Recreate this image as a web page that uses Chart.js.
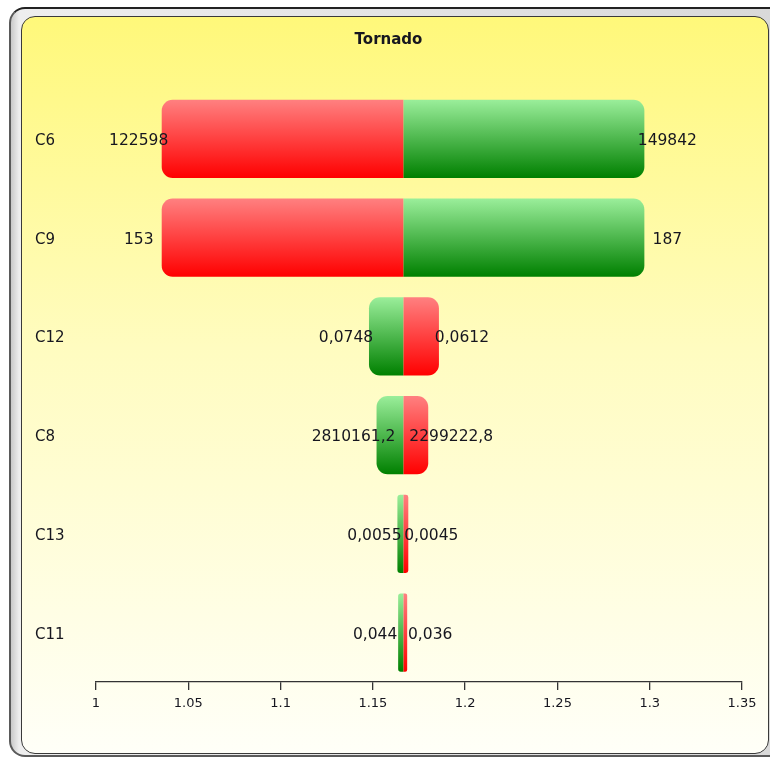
<!DOCTYPE html>
<html>
<head>
<meta charset="utf-8">
<title>Tornado</title>
<script src="https://cdn.jsdelivr.net/npm/chart.js@4.4.1/dist/chart.umd.min.js"></script>
<style>
  html, body { margin: 0; padding: 0; background: #ffffff; overflow: hidden; }
  #wrap { position: relative; width: 770px; height: 759px; overflow: hidden; }
  .frame {
    position: absolute; left: 9px; top: 7px; width: 800px; height: 750px;
    box-sizing: border-box;
    border: 2px solid #5a5a5a; border-top-color: #222;
    border-radius: 16px;
    background: linear-gradient(to right, #c9c9c9, #eeeeee 8px, #d8d8d8);
  }
  .panel {
    position: absolute; left: 21px; top: 16px; width: 748px; height: 738px;
    box-sizing: border-box;
    border: 1.5px solid #3a3a3a;
    border-radius: 14px;
    background: linear-gradient(to bottom, #fff87a 0%, #fffcc0 45%, #fffff8 100%);
  }
  canvas { position: absolute; left: 0; top: 0; }
</style>
</head>
<body>
<div id="wrap">
  <div class="frame"></div>
  <div class="panel"></div>
  <canvas id="chart" width="770" height="759"></canvas>
</div>
<script>
// Parameters, top to bottom
const categories = ['C6', 'C9', 'C12', 'C8', 'C13', 'C11'];
// Input values at the left and right end of each bar
const leftInputs  = [122598, 153, 0.0748, 2810161.2, 0.0055, 0.044];
const rightInputs = [149842, 187, 0.0612, 2299222.8, 0.0045, 0.036];
// Resulting output at each end of the bar, and the base case in the middle
const leftOutputs  = [1.0356, 1.0356, 1.1479, 1.1520, 1.1633, 1.1637];
const rightOutputs = [1.2971, 1.2971, 1.1858, 1.1800, 1.1692, 1.1686];
const baseOutput = 1.1665;
// Axis ticks
const xTickLabels = ['1', '1.05', '1.1', '1.15', '1.2', '1.25', '1.3', '1.35'];

const FONT = '"DejaVu Sans", Verdana, sans-serif';
const TEXT = '#16161f';
const BAR_FRACTION = 0.79;

function fmt(v) { return String(v).replace('.', ','); }

function barGradient(ctx, red) {
  const chart = ctx.chart;
  const ys = chart.scales.y;
  const fallback = red ? '#ff2020' : '#139a13';
  if (!ys || ctx.type !== 'data') return fallback;
  const yc = ys.getPixelForValue(ctx.dataIndex);
  const h = ys.height / categories.length * BAR_FRACTION;
  if (!isFinite(yc) || !isFinite(h) || h <= 0) return fallback;
  const g = chart.ctx.createLinearGradient(0, yc - h / 2, 0, yc + h / 2);
  if (red) {
    g.addColorStop(0, '#ff8080');
    g.addColorStop(1, '#ff0000');
  } else {
    g.addColorStop(0, '#9aee9a');
    g.addColorStop(1, '#008000');
  }
  return g;
}

// The lower input value is drawn red, the higher one green
const leftIsRed = categories.map((_, i) => leftInputs[i] < rightInputs[i]);

const valueLabels = {
  id: 'valueLabels',
  afterDatasetsDraw(chart) {
    const { ctx, scales: { x, y } } = chart;
    ctx.save();
    ctx.font = '15.5px ' + FONT;
    ctx.fillStyle = TEXT;
    ctx.textAlign = 'center';
    ctx.textBaseline = 'middle';
    categories.forEach((c, i) => {
      const yc = y.getPixelForValue(i);
      const xl = x.getPixelForValue(leftOutputs[i]);
      const xr = x.getPixelForValue(rightOutputs[i]);
      ctx.fillText(fmt(leftInputs[i]), xl - 23, yc + 2);
      ctx.fillText(fmt(rightInputs[i]), xr + 23, yc + 2);
    });
    ctx.restore();
  }
};

new Chart(document.getElementById('chart'), {
  type: 'bar',
  data: {
    labels: categories,
    datasets: [
      {
        label: 'low',
        data: categories.map((_, i) => [leftOutputs[i], baseOutput]),
        backgroundColor: (ctx) => barGradient(ctx, leftIsRed[ctx.dataIndex]),
        borderSkipped: false,
        borderWidth: 0,
        borderRadius: { topLeft: 11, bottomLeft: 11, topRight: 0, bottomRight: 0 },
        grouped: false
      },
      {
        label: 'high',
        data: categories.map((_, i) => [baseOutput, rightOutputs[i]]),
        backgroundColor: (ctx) => barGradient(ctx, !leftIsRed[ctx.dataIndex]),
        borderSkipped: false,
        borderWidth: 0,
        borderRadius: { topLeft: 0, bottomLeft: 0, topRight: 11, bottomRight: 11 },
        grouped: false
      }
    ]
  },
  options: {
    indexAxis: 'y',
    responsive: false,
    animation: false,
    events: [],
    categoryPercentage: 1,
    barPercentage: BAR_FRACTION,
    layout: { padding: { left: 35, right: 28, top: 0, bottom: 37 } },
    plugins: {
      legend: { display: false },
      tooltip: { enabled: false },
      title: {
        display: true,
        text: 'Tornado',
        color: TEXT,
        font: { family: FONT, size: 15, weight: 'bold', lineHeight: 1.2 },
        padding: { top: 31, bottom: 40.5 }
      }
    },
    scales: {
      x: {
        type: 'linear',
        min: 1,
        max: 1.35,
        afterBuildTicks(scale) {
          scale.ticks = xTickLabels.map(t => ({ value: parseFloat(t) }));
        },
        afterFit(scale) { scale.height = 40; },
        grid: { drawOnChartArea: false, drawTicks: true, tickLength: 8, color: '#333', lineWidth: 1.3 },
        border: { display: true, color: '#333', width: 1.3 },
        ticks: {
          color: TEXT,
          padding: 6,
          autoSkip: false,
          maxRotation: 0,
          font: { family: FONT, size: 13 },
          callback: (v, i) => xTickLabels[i]
        }
      },
      y: {
        afterFit(scale) { scale.width = 61; },
        grid: { display: false },
        border: { display: false },
        ticks: {
          color: TEXT,
          crossAlign: 'far',
          labelOffset: 2,
          font: { family: FONT, size: 15, lineHeight: 1.0 }
        }
      }
    }
  },
  plugins: [valueLabels]
});
</script>
</body>
</html>
